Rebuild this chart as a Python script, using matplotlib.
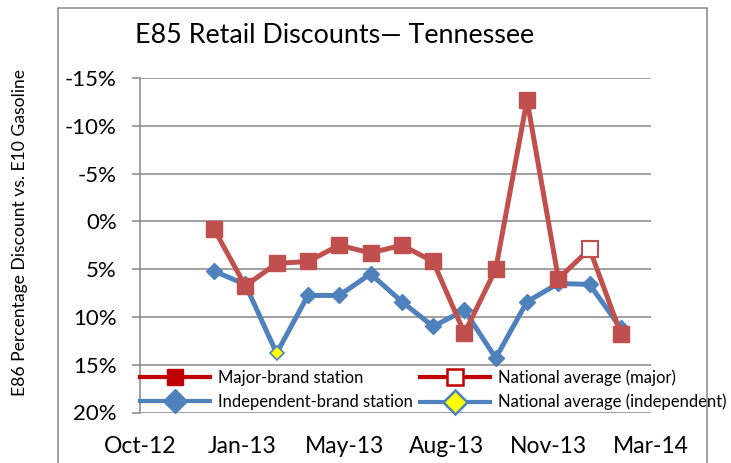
import matplotlib
matplotlib.use("Agg")
import matplotlib.pyplot as plt
from matplotlib.lines import Line2D
from matplotlib.patches import Rectangle

plt.rcParams['font.family'] = ['Lato', 'DejaVu Sans']

# survey points (E85 discount vs E10, %; negative = premium)
major = [0.8, 6.75, 4.4, 4.2, 2.5, 3.3, 2.5, 4.2, 11.7, 5.0, -12.7, 6.0, 2.9, 11.8]
indep = [5.2, 6.6, 13.8, 7.75, 7.75, 5.5, 8.4, 11.0, 9.3, 14.3, 8.4, 6.5, 6.6, 11.2]
nat_major_idx = [12]
nat_indep_idx = [2]
x_labels = ["Oct-12", "Jan-13", "May-13", "Aug-13", "Nov-13", "Mar-14"]
y_ticks = [-15, -10, -5, 0, 5, 10, 15, 20]

RED = '#C0504D'
BLUE = '#4F81BD'
DARKRED = '#C00000'
GRID = '#868686'

W, H = 731, 463
fig = plt.figure(figsize=(W / 100, H / 100), dpi=100)
ax = fig.add_axes([140 / W, 1 - 412.5 / H, 511 / W, 334.5 / H])

xs = list(range(len(major)))
major_keep = [i for i in xs if i not in nat_major_idx]
indep_keep = [i for i in xs if i not in nat_indep_idx]

ax.plot(xs, indep, color=BLUE, lw=3.6, marker='D', ms=7.8, mfc=BLUE, mec=BLUE,
        markevery=indep_keep, zorder=3)
ax.plot(xs, major, color=RED, lw=3.6, marker='s', ms=11.5, mfc=RED, mec=RED,
        markevery=major_keep, zorder=4)
ax.plot([xs[i] for i in nat_indep_idx], [indep[i] for i in nat_indep_idx], ls='none',
        marker='D', ms=7.5, mfc='#FFFF00', mec=BLUE, mew=1.2, zorder=5)
ax.plot([xs[i] for i in nat_major_idx], [major[i] for i in nat_major_idx], ls='none',
        marker='s', ms=11, mfc='white', mec=RED, mew=1.5, zorder=5)

x0, x1 = -2.364, 13.96
ax.set_xlim(x0, x1)
ax.set_ylim(20, -15)
step = (x1 - x0) / (len(x_labels) - 1)
ax.set_xticks([x0 + step * k for k in range(len(x_labels))])
ax.set_xticklabels(x_labels)
ax.set_yticks(y_ticks)
ax.set_yticklabels([f"{v}%" for v in y_ticks])
ax.tick_params(axis='x', length=0, pad=17, labelsize=16.5)
ax.tick_params(axis='y', length=5.8, width=1.1, color=GRID, pad=11, labelsize=16)

for s in ['top', 'right', 'bottom']:
    ax.spines[s].set_visible(False)
ax.spines['left'].set_color(GRID)
ax.spines['left'].set_linewidth(1.1)
ax.grid(axis='y', color=GRID, lw=1.1)
ax.set_axisbelow(True)

handles = [
    Line2D([], [], color=DARKRED, lw=3, marker='s', ms=12, mfc=DARKRED, mec=DARKRED),
    Line2D([], [], color=BLUE, lw=3, marker='D', ms=12, mfc=BLUE, mec=BLUE),
    Line2D([], [], color=DARKRED, lw=3, marker='s', ms=11, mfc='white', mec=DARKRED, mew=1.8),
    Line2D([], [], color=BLUE, lw=3, marker='D', ms=12, mfc='#FFFF00', mec=BLUE, mew=1.8),
]
labels = ["Major-brand station", "Independent-brand station",
          "National average (major)", "National average (independent)"]
ax.legend(handles, labels, ncol=2, loc='upper left', frameon=False,
          bbox_to_anchor=(140 / W, 1 - 369 / H), bbox_transform=fig.transFigure,
          borderpad=0, borderaxespad=0, handlelength=4.2, handletextpad=0.5,
          columnspacing=0.4, labelspacing=0.5, fontsize=12)

fig.text(135 / W, 1 - 43 / H, "E85 Retail Discounts\u2014 Tennessee", fontsize=19.4,
         ha='left', va='baseline')
fig.text(20 / W, 1 - 232 / H, "E86 Percentage Discount vs. E10 Gasoline", fontsize=12.6,
         rotation=90, ha='center', va='center')

fig.patches.append(Rectangle((58 / W, -0.05), 649 / W, 1.05 - 8 / H, transform=fig.transFigure,
                             fill=False, edgecolor=GRID, lw=1.1))

fig.savefig("out.png", dpi=100)
